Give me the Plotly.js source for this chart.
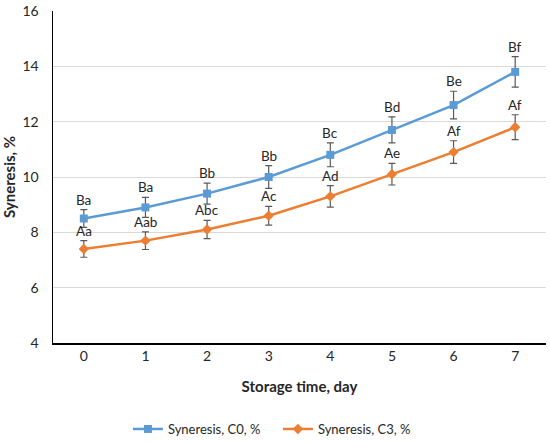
<!DOCTYPE html>
<html><head><meta charset="utf-8">
<script src="https://cdn.plot.ly/plotly-3.0.1.min.js"></script>
<style>html,body{margin:0;padding:0;background:#fff}#chart{width:550px;height:442px}</style>
</head><body><div id="chart"></div>
<script>
const days = ['0','1','2','3','4','5','6','7'];
const c0Values = [8.5, 8.9, 9.4, 10.0, 10.8, 11.7, 12.6, 13.8];
const c0Errors = [0.32, 0.36, 0.38, 0.41, 0.43, 0.47, 0.5, 0.55];
const c0Labels = ['Ba','Ba','Bb','Bb','Bc','Bd','Be','Bf'];
const c3Values = [7.4, 7.7, 8.1, 8.6, 9.3, 10.1, 10.9, 11.8];
const c3Errors = [0.3, 0.32, 0.33, 0.34, 0.39, 0.39, 0.41, 0.45];
const c3Labels = ['Aa','Aab','Abc','Ac','Ad','Ae','Af','Af'];

const FONT = 'Lato, "Open Sans", sans-serif';
const errStyle = {type:'data', visible:true, color:'#595959', thickness:1.2, width:3.5};

const traces = [
  {x: days, y: c0Values, name: 'Syneresis, C0, %', type:'scatter', mode:'lines+markers',
   line:{color:'#5B9BD5', width:2.5}, marker:{symbol:'square', size:8, color:'#5B9BD5'},
   error_y: Object.assign({array: c0Errors}, errStyle)},
  {x: days, y: c3Values, name: 'Syneresis, C3, %', type:'scatter', mode:'lines+markers',
   line:{color:'#ED7D31', width:2.5}, marker:{symbol:'diamond', size:8, color:'#ED7D31'},
   error_y: Object.assign({array: c3Errors}, errStyle)}
];

const annotations = [];
function addLabels(vals, errs, labels){
  vals.forEach((v,i)=>{
    annotations.push({x: days[i], y: v + errs[i], xref:'x', yref:'y', text: labels[i],
      showarrow:false, yanchor:'bottom', yshift:0, font:{family:FONT, size:13.5, color:'#262626'}});
  });
}
addLabels(c0Values, c0Errors, c0Labels);
addLabels(c3Values, c3Errors, c3Labels);

const layout = {
  width:550, height:442,
  margin:{l:53, r:4, t:11, b:99},
  paper_bgcolor:'#fff', plot_bgcolor:'#fff',
  font:{family:FONT, size:13, color:'#262626'},
  showlegend:true,
  legend:{orientation:'h', xref:'paper', x:0.152, xanchor:'left', yref:'container', y:0.0294, yanchor:'middle',
          entrywidth:105, entrywidthmode:'pixels',
          font:{family:FONT, size:13, color:'#262626'}},
  xaxis:{type:'category', range:[-0.5,7.5], showgrid:false, showline:true, linecolor:'#000', linewidth:1.5,
         ticks:'', zeroline:false, tickfont:{family:FONT, size:14}, automargin:false,
         title:{text:'<b>Storage time, day</b>', standoff:18, font:{family:FONT, size:15, color:'#262626'}}},
  yaxis:{range:[4,16], dtick:2, showgrid:true, gridcolor:'#D9D9D9', gridwidth:1, showline:true,
         linecolor:'#000', linewidth:1.5, ticks:'', zeroline:false, tickfont:{family:FONT, size:14},
         ticklabelstandoff:10, automargin:false,
         title:{text:'<b>Syneresis, %</b>', standoff:6, font:{family:FONT, size:15, color:'#262626'}}},
  annotations: annotations
};

Plotly.newPlot('chart', traces, layout, {staticPlot:true, displayModeBar:false});
</script>
</body></html>
